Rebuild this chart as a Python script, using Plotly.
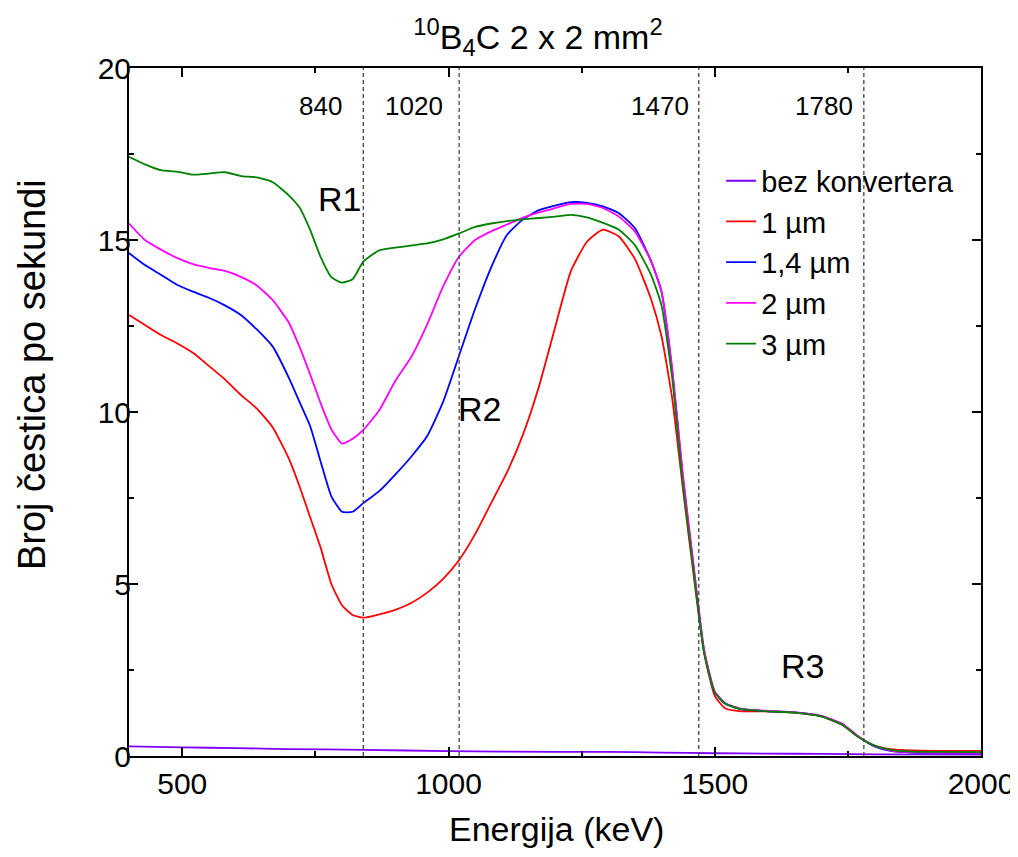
import plotly.graph_objects as go

# energy grid (keV)
energy = [400, 430, 460, 490, 520, 550, 580, 610, 640, 670, 700, 720, 740, 760, 780,
          800, 820, 840, 870, 900, 930, 960, 990, 1020, 1050, 1080, 1110, 1140, 1170,
          1200, 1230, 1260, 1290, 1320, 1350, 1380, 1400, 1420, 1440, 1460, 1480, 1500,
          1520, 1550, 1600, 1650, 1700, 1740, 1770, 1800, 1830, 1870, 1920, 2000]

um_1 = [12.82, 12.53, 12.24, 12.0, 11.72, 11.34, 10.95, 10.5, 10.1, 9.55, 8.65, 7.85, 6.95, 6.05, 5.0,
        4.38, 4.1, 4.02, 4.12, 4.25, 4.45, 4.75, 5.15, 5.7, 6.45, 7.35, 8.25, 9.35, 10.75,
        12.45, 14.1, 14.95, 15.3, 15.1, 14.45, 13.3, 12.2, 10.4, 7.8, 5.3, 3.0, 1.75,
        1.38, 1.3, 1.3, 1.26, 1.15, 0.9, 0.55, 0.3, 0.2, 0.16, 0.15, 0.15]

um_14 = [14.62, 14.27, 13.99, 13.7, 13.5, 13.32, 13.1, 12.82, 12.4, 11.9, 11.0, 10.3, 9.6, 8.55, 7.55,
         7.1, 7.1, 7.35, 7.7, 8.18, 8.7, 9.3, 10.3, 11.65, 13.0, 14.2, 15.15, 15.6, 15.87,
         16.0, 16.1, 16.08, 15.98, 15.78, 15.35, 14.4, 13.5, 11.2, 8.1, 5.5, 3.05, 1.85,
         1.52, 1.36, 1.3, 1.27, 1.16, 0.92, 0.56, 0.28, 0.15, 0.1, 0.09, 0.08]

um_2 = [15.48, 15.0, 14.72, 14.48, 14.3, 14.19, 14.1, 13.93, 13.68, 13.25, 12.6, 11.9, 11.1, 10.25, 9.5,
        9.08, 9.22, 9.48, 10.05, 10.9, 11.6, 12.55, 13.65, 14.52, 15.0, 15.25, 15.45, 15.65, 15.8,
        15.93, 16.05, 16.05, 15.93, 15.68, 15.25, 14.4, 13.5, 11.3, 8.2, 5.6, 3.1, 1.88,
        1.53, 1.37, 1.31, 1.27, 1.17, 0.93, 0.57, 0.3, 0.16, 0.11, 0.1, 0.09]

um_3 = [17.42, 17.2, 17.03, 16.99, 16.9, 16.93, 16.97, 16.86, 16.82, 16.68, 16.3, 15.95, 15.3, 14.5, 13.92,
        13.76, 13.86, 14.37, 14.7, 14.78, 14.84, 14.9, 15.02, 15.19, 15.38, 15.48, 15.55, 15.6, 15.64,
        15.68, 15.73, 15.66, 15.5, 15.3, 14.85, 14.0, 13.1, 11.0, 7.9, 5.4, 3.0, 1.85,
        1.52, 1.36, 1.3, 1.26, 1.15, 0.9, 0.55, 0.3, 0.18, 0.13, 0.12, 0.11]

energy_bez = [400, 500, 600, 700, 840, 1000, 1200, 1300, 1400, 1500, 1600, 1700, 1800, 2000]
bez = [0.28, 0.25, 0.23, 0.2, 0.18, 0.14, 0.12, 0.12, 0.1, 0.08, 0.07, 0.06, 0.05, 0.04]

series = [
    ("bez konvertera", energy_bez, bez, "#8000ff"),
    ("1 µm", energy, um_1, "#ff0000"),
    ("1,4 µm", energy, um_14, "#0000ff"),
    ("2 µm", energy, um_2, "#ff00ff"),
    ("3 µm", energy, um_3, "#008000"),
]

markers = [840, 1020, 1470, 1780]
marker_labels = ["840", "1020", "1470", "1780"]
marker_label_x = [760, 936, 1398, 1705]

regions = ["R1", "R2", "R3"]
region_x = [796, 1058, 1664]
region_y = [16.18, 10.1, 2.62]

FONT = "Arial, 'Liberation Sans', sans-serif"

fig = go.Figure()
for name, xs, ys, col in series:
    fig.add_trace(go.Scatter(
        x=xs, y=ys, name=name, mode="lines",
        line=dict(color=col, width=1.8, shape="spline", smoothing=0.5),
    ))

for m in markers:
    fig.add_vline(x=m, line_dash="4px,3px", line_color="#444444", line_width=1.3)

for lab, lx in zip(marker_labels, marker_label_x):
    fig.add_annotation(x=lx, y=18.9, text=lab, showarrow=False,
                       font=dict(size=26, color="black", family=FONT))

for lab, rx, ry in zip(regions, region_x, region_y):
    fig.add_annotation(x=rx, y=ry, text=lab, showarrow=False,
                       font=dict(size=34, color="black", family=FONT))

# axis titles as annotations for precise placement
fig.add_annotation(xref="paper", yref="paper", x=0.502, y=-0.137, text="Energija (keV)",
                   showarrow=False, font=dict(size=34, color="black", family=FONT))
fig.add_annotation(xref="paper", yref="paper", x=-0.114, y=0.555, text="Broj čestica po sekundi",
                   textangle=-90, xanchor="center", yanchor="middle", showarrow=False,
                   font=dict(size=38, color="black", family=FONT))

axis_common = dict(
    showline=True, linecolor="black", linewidth=2, mirror="ticks",
    ticks="inside", ticklen=9, tickwidth=2, tickcolor="black",
    showgrid=False, zeroline=False,
    tickfont=dict(size=30, color="black", family=FONT),
)

fig.update_layout(
    width=1018, height=857,
    paper_bgcolor="white", plot_bgcolor="white",
    margin=dict(l=121, r=34, t=60, b=109),
    font=dict(family=FONT, color="black"),
    title=dict(text="<sup>10</sup>B<sub>4</sub>C 2 x 2 mm<sup>2</sup>",
               x=0.48, xref="paper", xanchor="center", y=0.966, yanchor="middle",
               font=dict(size=34, color="black", family=FONT)),
    xaxis=dict(range=[400, 2000], tickvals=[500, 1000, 1500, 2000],
               minor=dict(tickvals=[750, 1250, 1750], ticks="inside", ticklen=5,
                          tickwidth=1.5, tickcolor="black"),
               **axis_common),
    yaxis=dict(range=[0, 20], tickvals=[0, 5, 10, 15, 20], ticklabelstandoff=-10,
               minor=dict(tickvals=[2.5, 7.5, 12.5, 17.5], ticks="inside", ticklen=5,
                          tickwidth=1.5, tickcolor="black"),
               **axis_common),
    legend=dict(x=0.695, y=0.873, xanchor="left", yanchor="top",
                bgcolor="rgba(0,0,0,0)",
                font=dict(size=29, color="black", family=FONT)),
    showlegend=True,
)

fig.write_html("out.html")
